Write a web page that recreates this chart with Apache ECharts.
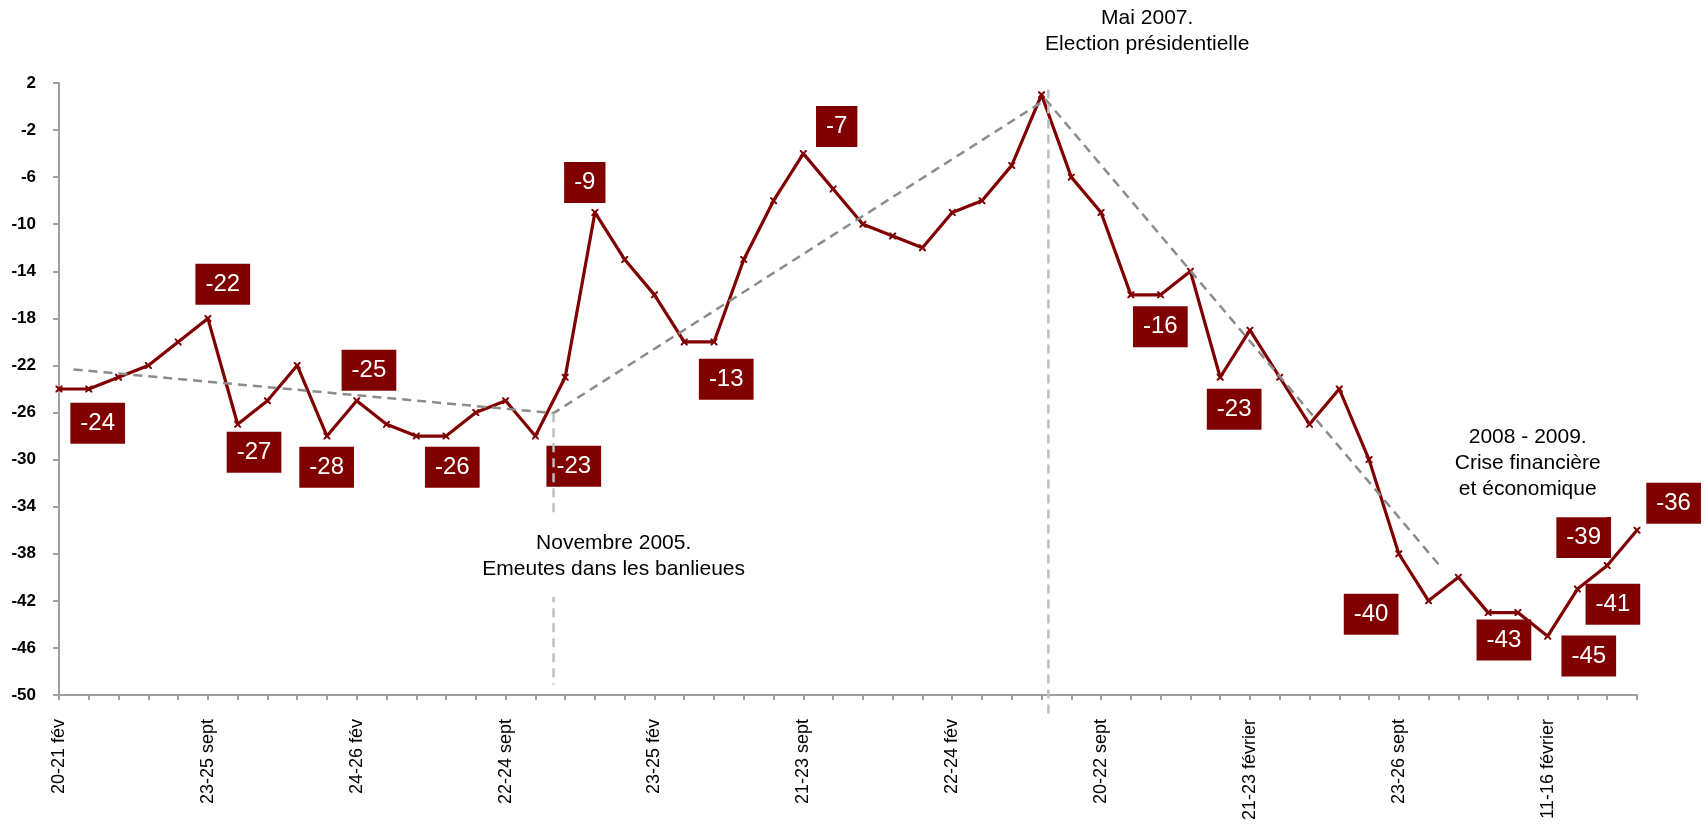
<!DOCTYPE html>
<html><head><meta charset="utf-8">
<script src="https://cdn.jsdelivr.net/npm/echarts@6/dist/echarts.min.js"></script>
<style>html,body{margin:0;padding:0;background:#fff}#c{width:1704px;height:827px}</style>
</head><body><div id="c"></div><script>
// Category labels (only every fifth one is legible in the source)
const categories = [
  '20-21 fév','','','','',
  '23-25 sept','','','','',
  '24-26 fév','','','','',
  '22-24 sept','','','','',
  '23-25 fév','','','','',
  '21-23 sept','','','','',
  '22-24 fév','','','','',
  '20-22 sept','','','','',
  '21-23 février','','','','',
  '23-26 sept','','','','',
  '11-16 février','','',''
];
// Plotted series
const values = [
  -24,-24,-23,-22,-20,-18,-27,-25,-22,-28,
  -25,-27,-28,-28,-26,-25,-28,-23,-9,-13,
  -16,-20,-20,-13,-8,-4,-7,-10,-11,-12,
  -9,-8,-5,1,-6,-9,-16,-16,-14,-23,
  -19,-23,-27,-24,-30,-38,-42,-40,-43,-43,
  -45,-41,-39,-36
];
// Y tick labels
const yTicks = [2,-2,-6,-10,-14,-18,-22,-26,-30,-34,-38,-42,-46,-50];

// Value boxes (position in category-index / value units, and their text)
const boxX = [1.30, 5.50, 6.55, 8.99, 10.41, 13.21, 17.29, 17.66, 22.41, 26.12, 36.99, 39.47, 44.07, 48.53, 51.38, 52.19, 51.21, 54.23];
const boxY = [-26.91, -15.11, -29.38, -30.65, -22.41, -30.65, -30.56, -6.46, -23.18, -1.70, -18.71, -25.73, -43.13, -45.33, -46.69, -42.28, -36.62, -33.70];
const boxText = ['-24','-22','-27','-28','-25','-26','-23','-9','-13','-7','-16','-23','-40','-43','-45','-41','-39','-36'];

// Trend (dashed grey) polyline
const trendX = [0.49, 16.61, 33.14, 46.35];
const trendY = [-22.34, -26.05, 0.59, -38.94];

// Event markers (vertical dashed lines)
const event1X = [16.61, 16.61];
const event1Y = [-26.05, -49.1];
const event2X = [33.23, 33.23];
const event2Y = [1.44, -51.67];

// Event notes
const noteX = [18.63, 36.55, 49.33];
const noteY = [-38.2, 6.41, -30.31];
const noteText = [
  'Novembre 2005.\nEmeutes dans les banlieues',
  'Mai 2007.\nElection présidentielle',
  '2008 - 2009.\nCrise financière\net économique'
];

const FONT = "'Liberation Sans', Arial, sans-serif";
const zip = (xs, ys) => xs.map((x, i) => [x, ys[i]]);

const chart = echarts.init(document.getElementById('c'), null, {renderer: 'canvas'});
chart.setOption({
  animation: false,
  backgroundColor: '#fff',
  textStyle: {fontFamily: FONT},
  grid: {left: 59, right: 67, top: 83, bottom: 132},
  xAxis: [{
    type: 'category',
    data: categories,
    boundaryGap: false,
    axisLine: {onZero: false, lineStyle: {color: '#a0a0a0', width: 2}},
    axisTick: {show: true, interval: 0, length: 5, lineStyle: {color: '#a0a0a0', width: 2}},
    axisLabel: {interval: 4, rotate: 90, fontSize: 18, color: '#000', margin: 24, fontFamily: FONT},
    splitLine: {show: false}
  }, {
    type: 'value', min: 0, max: 53, show: false
  }],
  yAxis: {
    type: 'value', min: -50, max: 2, interval: 4,
    axisLine: {show: true, onZero: false, lineStyle: {color: '#a0a0a0', width: 2}},
    axisTick: {show: true, length: 6, lineStyle: {color: '#a0a0a0', width: 2}, customValues: yTicks},
    axisLabel: {customValues: yTicks, fontSize: 17, fontWeight: 'bold', color: '#000', margin: 23, fontFamily: FONT},
    splitLine: {show: false}
  },
  series: [{
    type: 'line',
    data: values,
    z: 2,
    lineStyle: {color: '#800000', width: 3.2},
    itemStyle: {color: '#800000'},
    symbol: 'path://M0,0L2,0L5,3L8,0L10,0L10,2L7,5L10,8L10,10L8,10L5,7L2,10L0,10L0,8L3,5L0,2Z',
    symbolSize: 7,
    showSymbol: true,
    showAllSymbol: true
  }, {
    type: 'line',
    xAxisIndex: 1,
    data: zip(trendX, trendY),
    z: 3,
    symbol: 'none',
    clip: false,
    lineStyle: {color: '#8c8c8c', width: 2.5, type: [9, 6]}
  }, {
    type: 'scatter',
    xAxisIndex: 1,
    z: 4,
    clip: false,
    symbolSize: 1,
    itemStyle: {color: 'rgba(0,0,0,0)', opacity: 1},
    data: boxX.map((x, i) => ({value: [x, boxY[i]], name: boxText[i]})),
    label: {
      show: true, position: 'inside', formatter: '{b}',
      color: '#fff', fontSize: 24, lineHeight: 24, fontFamily: FONT,
      backgroundColor: '#800000', padding: [9, 10, 8, 10]
    }
  }, {
    type: 'line',
    xAxisIndex: 1,
    data: zip(event1X, event1Y),
    z: 5,
    symbol: 'none',
    clip: false,
    lineStyle: {color: '#bfbfbf', width: 2.5, type: [9, 6]}
  }, {
    type: 'line',
    xAxisIndex: 1,
    data: zip(event2X, event2Y),
    z: 5,
    symbol: 'none',
    clip: false,
    lineStyle: {color: '#bfbfbf', width: 2.5, type: [9, 6]}
  }, {
    type: 'scatter',
    xAxisIndex: 1,
    z: 6,
    clip: false,
    symbolSize: 1,
    itemStyle: {color: 'rgba(0,0,0,0)', opacity: 1},
    data: noteX.map((x, i) => ({value: [x, noteY[i]], name: noteText[i]})),
    label: {
      show: true, position: 'inside', formatter: '{b}',
      color: '#000', fontSize: 21, lineHeight: 26, fontFamily: FONT, align: 'center',
      backgroundColor: '#fff', padding: [15, 6]
    }
  }]
});
</script></body></html>
